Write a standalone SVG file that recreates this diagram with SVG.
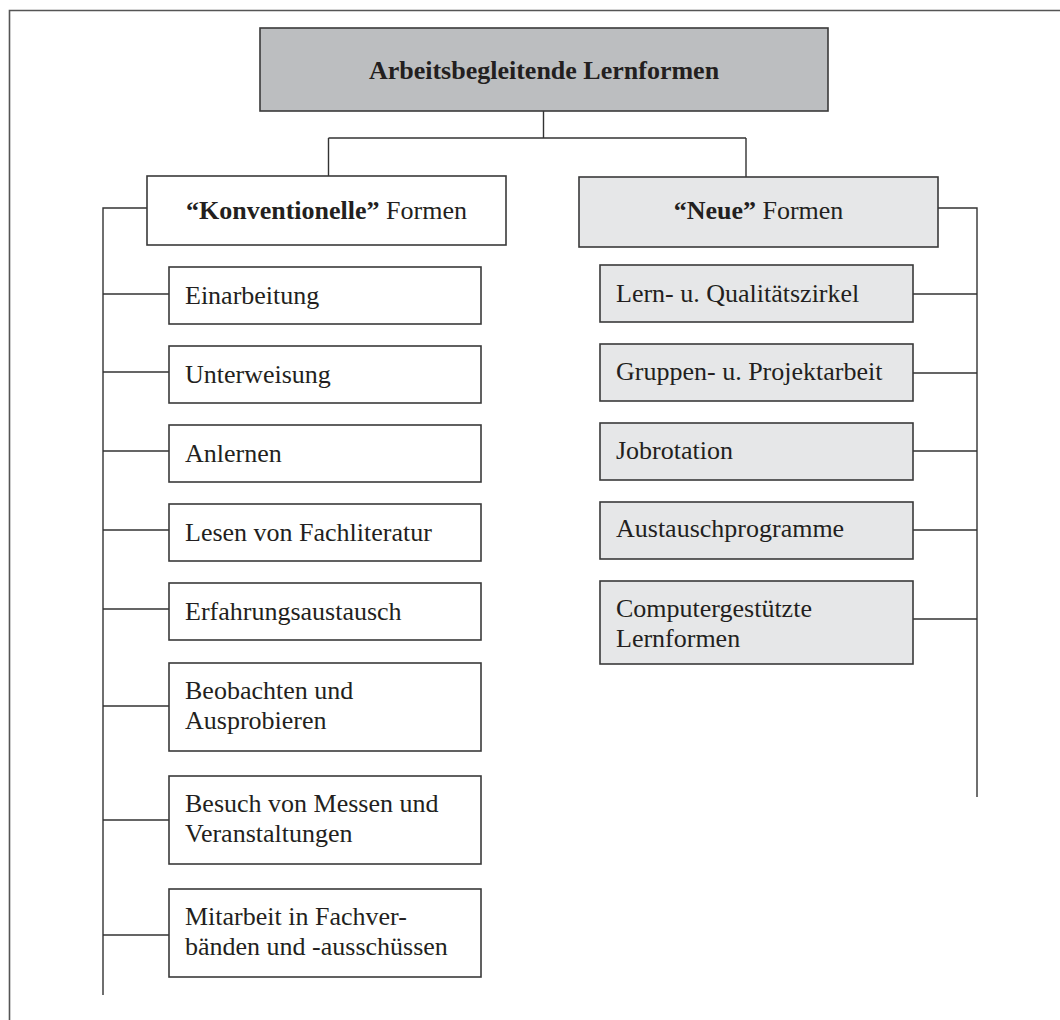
<svg xmlns="http://www.w3.org/2000/svg" width="1060" height="1020" viewBox="0 0 1060 1020">
<style>
.box{stroke:#3a3a3a;stroke-width:1.6;fill:#ffffff}
.dark{fill:#bcbec0}
.light{fill:#e6e7e8}
.t{font-family:"Liberation Serif","Times New Roman",serif;font-size:26px;fill:#231f20}
.b{font-weight:bold}
.c{text-anchor:middle}
.ln{stroke:#333333;stroke-width:1.4;fill:none}
.frame{stroke:#555555;stroke-width:1.6;fill:none}
</style>
<rect width="1060" height="1020" fill="#ffffff"/>
<path class="frame" d="M9.5 1020 V10.5 H1060"/>

<g id="connectors">
<path class="ln" d="M543.5 111 V138 M328.5 138 H746 M328.5 138 V176 M746 138 V177"/>
<path class="ln" d="M147 208 H103 V995"/>
<path class="ln" d="M103 294 H169 M103 372 H169 M103 451 H169 M103 530 H169 M103 609 H169 M103 706 H169 M103 820 H169 M103 935 H169"/>
<path class="ln" d="M938 208 H977 V797"/>
<path class="ln" d="M913 294 H977 M913 373 H977 M913 451 H977 M913 530 H977 M913 619 H977"/>
</g>

<g id="root">
<rect class="box dark" x="260" y="28" width="568" height="83"/>
<text class="t b c" x="544" y="79">Arbeitsbegleitende Lernformen</text>
</g>
<g id="konventionelle">
<rect class="box" x="147" y="176" width="359" height="69"/>
<text class="t c" x="326.5" y="219"><tspan class="b">“Konventionelle”</tspan> Formen</text>
</g>
<g id="neue">
<rect class="box light" x="579" y="177" width="359" height="70"/>
<text class="t c" x="758.5" y="219"><tspan class="b">“Neue”</tspan> Formen</text>
</g>

<g id="einarbeitung"><rect class="box" x="169" y="267" width="312" height="57"/><text class="t" x="185" y="304">Einarbeitung</text></g>
<g id="unterweisung"><rect class="box" x="169" y="346" width="312" height="57"/><text class="t" x="185" y="383">Unterweisung</text></g>
<g id="anlernen"><rect class="box" x="169" y="425" width="312" height="57"/><text class="t" x="185" y="462">Anlernen</text></g>
<g id="lesen"><rect class="box" x="169" y="504" width="312" height="57"/><text class="t" x="185" y="541">Lesen von Fachliteratur</text></g>
<g id="erfahrung"><rect class="box" x="169" y="583" width="312" height="57"/><text class="t" x="185" y="620">Erfahrungsaustausch</text></g>
<g id="beobachten"><rect class="box" x="169" y="663" width="312" height="88"/><text class="t" x="185" y="699">Beobachten und</text><text class="t" x="185" y="729">Ausprobieren</text></g>
<g id="besuch"><rect class="box" x="169" y="776" width="312" height="88"/><text class="t" x="185" y="812">Besuch von Messen und</text><text class="t" x="185" y="842">Veranstaltungen</text></g>
<g id="mitarbeit"><rect class="box" x="169" y="889" width="312" height="88"/><text class="t" x="185" y="925">Mitarbeit in Fachver-</text><text class="t" x="185" y="955">bänden und -ausschüssen</text></g>

<g id="lernzirkel"><rect class="box light" x="600" y="265" width="313" height="57"/><text class="t" x="616" y="302">Lern- u. Qualitätszirkel</text></g>
<g id="gruppen"><rect class="box light" x="600" y="344" width="313" height="57"/><text class="t" x="616" y="380">Gruppen- u. Projektarbeit</text></g>
<g id="jobrotation"><rect class="box light" x="600" y="423" width="313" height="57"/><text class="t" x="616" y="459">Jobrotation</text></g>
<g id="austausch"><rect class="box light" x="600" y="502" width="313" height="57"/><text class="t" x="616" y="537">Austauschprogramme</text></g>
<g id="computer"><rect class="box light" x="600" y="581" width="313" height="83"/><text class="t" x="616" y="617">Computergestützte</text><text class="t" x="616" y="647">Lernformen</text></g>
</svg>
